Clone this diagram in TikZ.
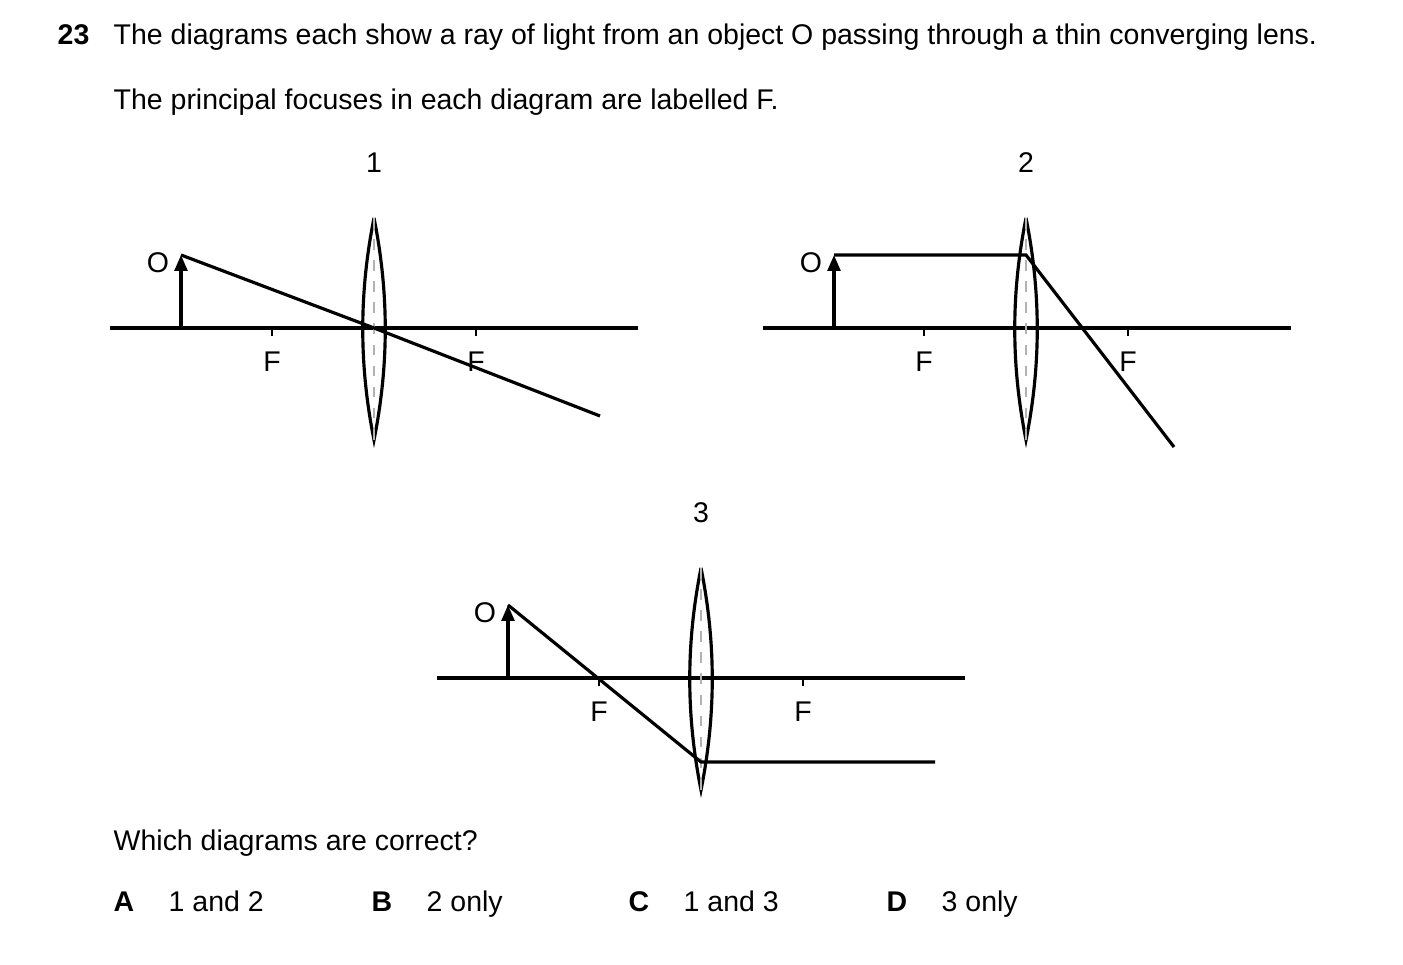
\documentclass[tikz,border=0pt]{standalone}
\usepackage{fontspec}
\setmainfont{Liberation Sans}
\usetikzlibrary{arrows.meta}
\tikzset{
  axis/.style={line width=0.9pt},
  ray/.style={line width=0.9pt},
  lensline/.style={line width=0.9pt},
  focus/.style={line width=0.7pt},
  txt/.style={anchor=base west, inner sep=0pt, font=\fontsize{8.1}{9}\selectfont},
  lbl/.style={inner sep=0pt, font=\fontsize{8.1}{9}\selectfont},
  object/.style={line width=0.9pt, -{Triangle[length=4.5pt,width=3.6pt]}},
}
\begin{document}
\begin{tikzpicture}[x=0.01cm,y=-0.01cm]
  \useasboundingbox (0,0) rectangle (1403,965);
  % question text
  \node[txt, font=\fontsize{8.1}{9}\selectfont\bfseries] (num) at (57,45) {23};
  \node[txt] (q1) at (113,45) {The diagrams each show a ray of light from an object O passing through a thin converging lens.};
  \node[txt] (q2) at (113,110) {The principal focuses in each diagram are labelled F.};
  % the three diagrams: name/axis start/lens x/axis y
  \foreach \n/\xa/\xl/\ya in {1/110/374/328, 2/763/1026/328, 3/437/701/678} {
    \coordinate (ax\n) at (\xa,\ya);
    \coordinate (ay\n) at (\xa+528,\ya);
    \coordinate (lt\n) at (\xl,\ya-110);
    \coordinate (lb\n) at (\xl,\ya+112);
    \coordinate (ob\n) at (\xa+71,\ya);
    \coordinate (ot\n) at (\xa+71,\ya-73);
    \draw[axis] (ax\n) -- (ay\n);
    \draw[lensline] (lt\n) .. controls +(-15,75) and +(-15,-75) .. (lb\n)
                          .. controls +(15,-75) and +(15,75) .. (lt\n);
    \draw[gray!60, dashed, line width=0.5pt] (lt\n) -- (lb\n);
    \draw[object] (ob\n) -- (ot\n);
    \node[lbl] (o\n) at (\xa+48,\ya-65) {O};
    \node[lbl] (t\n) at (\xl,\ya-165) {\n};
    \foreach \f/\s in {l/-1, r/1} {
      \draw[focus] (\xl+\s*102,\ya) -- (\xl+\s*102,\ya+8);
      \node[lbl] (f\n\f) at (\xl+\s*102,\ya+34) {F};
    }
  }
  % rays
  \coordinate (e1) at (600,416);
  \draw[ray] (ot1) -- (lt1 |- ax1) -- (e1);
  \coordinate (k2) at (1026,255);
  \coordinate (e2) at (1174,447);
  \draw[ray] (ot2) -- (k2) -- (e2);
  \coordinate (k3) at (701,762);
  \coordinate (e3) at (935,762);
  \draw[ray] (ot3) -- (k3) -- (e3);
  % answers
  \node[txt] (qq) at (113,851) {Which diagrams are correct?};
  \foreach \l/\x/\t in {A/113/1 and 2, B/371/2 only, C/628/1 and 3, D/886/3 only} {
    \node[txt, font=\fontsize{8.1}{9}\selectfont\bfseries] (k\l) at (\x,912) {\l};
    \node[txt] (a\l) at (\x+55,912) {\t};
  }
\end{tikzpicture}
\end{document}
